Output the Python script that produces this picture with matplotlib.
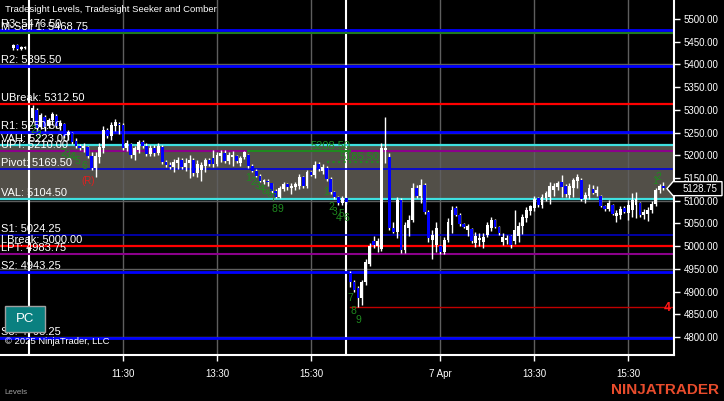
import matplotlib
matplotlib.use("Agg")
import matplotlib.pyplot as plt
import numpy as np
from matplotlib.patches import Polygon, Rectangle
from matplotlib.transforms import IdentityTransform, blended_transform_factory

plt.rcParams["font.family"] = ["Liberation Sans", "DejaVu Sans"]

# ---- 5 minute ES bars: tail of 3 Apr, 4 Apr RTH, 7 Apr RTH ----
prev_open = [5436, 5443, 5434, 5436]
prev_high = [5445, 5445, 5440.5, 5440.5]
prev_low = [5432, 5432, 5432, 5434]
prev_close = [5443, 5434, 5438.5, 5438.5]

day1_open = [
    5282, 5299.75, 5262.25, 5284.25, 5264.5, 5277.75, 5286.5, 5264.5, 5269, 5244.75,
    5249, 5231.5, 5220.5, 5216, 5218.25, 5198.5, 5172, 5196.25, 5216, 5255.75,
    5242.5, 5264.5, 5269, 5266.75, 5216, 5225, 5200.5, 5211.5, 5229.25, 5220.5,
    5202.75, 5216, 5205, 5218.25, 5185.25, 5178.5, 5174.25, 5183, 5189.5, 5174.25,
    5183, 5189.5, 5161, 5167.5, 5176.5, 5189.5, 5194, 5180.75, 5198.5, 5205,
    5187.5, 5196.25, 5198.5, 5183, 5196.25, 5200.5, 5176.5, 5165.5, 5154.5, 5141.25,
    5143.5, 5139, 5121.5, 5108.25, 5125.75, 5136.75, 5128, 5130.25, 5132.5, 5152.25,
    5132.5, 5163.25, 5156.5, 5180.75, 5165.5, 5172, 5147.75, 5119.25, 5108.25, 5095,
    5106]
day1_high = [
    5310.75, 5304, 5293, 5288.75, 5282, 5295.25, 5291, 5277.75, 5271, 5255.75,
    5251.25, 5238, 5225, 5227, 5220.5, 5207.25, 5207.25, 5227, 5264.5, 5260,
    5273.25, 5280, 5273.25, 5271, 5233.75, 5227, 5220.5, 5233.75, 5233.75, 5227,
    5222.75, 5222.75, 5227, 5222.75, 5189.5, 5185.25, 5191.75, 5196.25, 5194, 5194,
    5200.5, 5194, 5189.5, 5185.25, 5194, 5194, 5211.5, 5207.25, 5211.5, 5211.5,
    5207.25, 5209.5, 5200.5, 5198.5, 5209.5, 5202.75, 5180.75, 5169.75, 5158.75, 5147.75,
    5147.75, 5139, 5125.75, 5132.5, 5141.25, 5139, 5139, 5141.25, 5158.75, 5154.5,
    5167.5, 5165.5, 5187.5, 5185.25, 5180.75, 5176.5, 5152.25, 5121.5, 5110.5, 5110.5,
    5108.25]
day1_low = [
    5273.25, 5253.5, 5258, 5253.5, 5260, 5266.75, 5260, 5255.75, 5238, 5233.75,
    5225, 5216, 5211.5, 5207.25, 5194, 5167.5, 5152.25, 5183, 5205, 5238,
    5233.75, 5253.5, 5247, 5211.5, 5209.5, 5194, 5189.5, 5205, 5216, 5198.5,
    5198.5, 5198.5, 5200.5, 5180.75, 5174.25, 5169.75, 5163.25, 5169.75, 5169.75, 5165.5,
    5150, 5154.5, 5152.25, 5143.5, 5163.25, 5176.5, 5174.25, 5176.5, 5185.25, 5183,
    5180.75, 5176.5, 5183, 5176.5, 5191.75, 5172, 5163.25, 5152.25, 5141.25, 5137,
    5132.5, 5117, 5106, 5106, 5121.5, 5123.5, 5114.75, 5123.5, 5125.75, 5128,
    5128, 5154.5, 5150, 5165.5, 5158.75, 5143.5, 5114.75, 5103.75, 5090.5, 5090.5,
    5092.75]
day1_close = [
    5304, 5260, 5288.75, 5262.25, 5277.75, 5291, 5264.5, 5271, 5242.5, 5251.25,
    5229.25, 5220.5, 5216, 5220.5, 5198.5, 5172, 5198.5, 5218.25, 5255.75, 5242.5,
    5266.75, 5273.25, 5266.75, 5216, 5227, 5200.5, 5216, 5229.25, 5220.5, 5202.75,
    5216, 5205, 5220.5, 5185.25, 5178.5, 5174.25, 5185.25, 5189.5, 5174.25, 5183,
    5189.5, 5161, 5180.75, 5178.5, 5189.5, 5180.75, 5180.75, 5200.5, 5205, 5187.5,
    5200.5, 5200.5, 5187.5, 5194, 5207.25, 5176.5, 5165.5, 5154.5, 5143.5, 5145.5,
    5141.25, 5121.5, 5108.25, 5128, 5136.75, 5130.25, 5132.5, 5136.75, 5152.25, 5132.5,
    5163.25, 5156.5, 5178.5, 5169.75, 5174.25, 5147.75, 5119.25, 5108.25, 5095, 5106,
    5097.25]

day2_open = [
    4940.75, 4921, 4908, 4886, 4921, 4960.75, 5011.25, 5000.25, 4993.75, 5211.5,
    5196.25, 5040, 5031.25, 5101.5, 4991.5, 5040, 5057.5, 5128, 5110.5, 5134.5,
    5075.25, 5013.5, 5002.5, 5000.25, 4987, 5013.5, 5046.5, 5084, 5068.5, 5048.75,
    5035.5, 5037.75, 5007, 5013.5, 5009, 5024.5, 5040, 5057.5, 5042.25, 5009,
    5013.5, 5022.5, 5011.25, 5022.5, 5044.5, 5062, 5077.5, 5084, 5106, 5090.5,
    5106, 5108.25, 5123.5, 5130.25, 5141.25, 5132.5, 5112.5, 5128, 5143.5, 5145.5,
    5103.75, 5110.5, 5125.75, 5117, 5110.5, 5088.5, 5081.75, 5090.5, 5066.5, 5068.5,
    5084, 5073, 5079.5, 5090.5, 5095, 5068.5, 5070.75, 5079.5, 5092.75, 5123.5,
    5132.5]
day2_high = [
    4945.25, 4925.5, 4912.25, 4925.5, 4971.75, 5007, 5022.5, 5018, 5227, 5284.25,
    5205, 5053.25, 5108.25, 5106, 5053.25, 5068.5, 5139, 5134.5, 5147.75, 5139,
    5079.5, 5035.5, 5053.25, 5002.5, 5020.25, 5062, 5088.5, 5088.5, 5073, 5051,
    5048.75, 5040, 5031.25, 5029, 5029, 5053.25, 5064.25, 5059.75, 5044.5, 5029,
    5024.5, 5024.5, 5079.5, 5053.25, 5070.75, 5086.25, 5090.5, 5110.5, 5108.25, 5114.75,
    5121.5, 5141.25, 5139, 5143.5, 5156.5, 5136.75, 5139, 5150, 5158.75, 5150,
    5119.25, 5136.75, 5134.5, 5132.5, 5112.5, 5090.5, 5101.5, 5092.75, 5079.5, 5088.5,
    5088.5, 5101.5, 5117, 5119.25, 5097.25, 5081.75, 5086.25, 5099.5, 5128, 5136.75,
    5141.25]
day2_low = [
    4910, 4899, 4866, 4870.5, 4914.5, 4956.25, 4996, 4987, 4989.25, 5183,
    5035.5, 5029, 5018, 4985, 4985, 5022.5, 5053.25, 5106, 5095, 5070.75,
    5009, 4971.75, 4987, 4982.75, 4982.75, 5009, 5029, 5066.5, 5044.5, 5040,
    5022.5, 5007, 4998, 5000.25, 4996, 5020.25, 5033.5, 5040, 5024.5, 5002.5,
    5004.75, 4996, 5004.75, 5009, 5026.75, 5053.25, 5068.5, 5077.5, 5086.25, 5084,
    5099.5, 5092.75, 5110.5, 5123.5, 5108.25, 5108.25, 5106, 5108.25, 5128, 5099.5,
    5095, 5103.75, 5114.75, 5110.5, 5086.25, 5077.5, 5077.5, 5068.5, 5053.25, 5059.75,
    5073, 5057.5, 5064.25, 5062, 5064.25, 5059.75, 5055.5, 5073, 5088.5, 5117,
    5123.5]
day2_close = [
    4921, 4903.5, 4886, 4921, 4965, 5000.25, 5002.5, 5011.25, 5216, 5216,
    5040, 5031.25, 5101.5, 4991.5, 5046.5, 5057.5, 5128, 5110.5, 5134.5, 5075.25,
    5018, 5024.5, 5040, 4987, 5013.5, 5053.25, 5079.5, 5068.5, 5048.75, 5042.25,
    5044.5, 5011.25, 5022.5, 5018, 5020.25, 5046.5, 5057.5, 5042.25, 5029, 5020.25,
    5018, 5002.5, 5035.5, 5044.5, 5064.25, 5079.5, 5088.5, 5103.75, 5090.5, 5108.25,
    5117, 5132.5, 5132.5, 5139, 5130.25, 5114.75, 5132.5, 5145.5, 5152.25, 5103.75,
    5112.5, 5128, 5117, 5123.5, 5088.5, 5081.75, 5095, 5070.75, 5073, 5081.75,
    5075.25, 5090.5, 5101.5, 5103.75, 5068.5, 5075.25, 5079.5, 5092.75, 5123.5, 5132.5,
    5128.75]

# ---- Tradesight levels ----
level_names = ["R3", "M-Sell 1", "R2", "UBreak", "R1", "VAH", "UPT", "Pivot",
               "VAL", "S1", "LBreak", "LPT", "S2", "S3"]
level_values = [5476.50, 5468.75, 5395.50, 5312.50, 5250.50, 5223.00, 5210.00,
                5169.50, 5104.50, 5024.25, 5000.00, 4983.75, 4943.25, 4798.25]
level_style = {
    "R3": ("#0000ff", 2), "M-Sell 1": ("#1f7a1f", 1.5), "R2": ("#0000ff", 2),
    "UBreak": ("#ff0000", 1.6), "R1": ("#0000ff", 2), "VAH": ("#3ee0e0", 1.6),
    "UPT": ("#8b008b", 1.5), "Pivot": ("#0000e0", 1.2), "VAL": ("#3ee0e0", 1.6),
    "S1": ("#0000c0", 1.2), "LBreak": ("#ff0000", 1.6), "LPT": ("#8b008b", 1.5),
    "S2": ("#0000ff", 2), "S3": ("#0000ff", 2),
}
grid_prices = [5400, 5250, 5100, 4950, 4800]
low_of_day = 4866.0

# Seeker / Comber marks
seek_lines = [(55, 81, 5208.50), (75, 88.5, 5185.50)]
count_text = ["2", "3", "2", "3", "4", "5", "6",
              "1", "2", "3", "4", "5", "6", "7", "8", "9",
              "1", "2", "3", "4", "5", "6", "7", "8", "9",
              "1", "2"]
count_x = [0, 1.5, 7.8, 8.8, 10.2, 11.5, 13.2,
           55, 56.3, 57.3, 58.3, 59.2, 60.3, 61.3, 61.8, 63.2,
           75, 76.2, 77, 78, 78.8, 80, 81, 81.8, 83,
           158.8, 159.8]
count_y = [5255.5, 5244.7, 5205, 5200.6, 5196, 5187.4, 5176.4,
           5150, 5141.2, 5132.5, 5125.8, 5121.4, 5114.8, 5106, 5081.8, 5081.8,
           5119.2, 5086.2, 5075.2, 5062, 5070.8, 5062, 4886, 4857.5, 4837.5,
           5143.4, 5152.2]

tick_times = ["11:30", "13:30", "15:30", "11:30", "13:30", "15:30"]
tick_day = [0, 0, 0, 1, 1, 1]
tick_text = ["11:30", "13:30", "15:30", "7 Apr", "13:30", "15:30"]
price_ticks = np.arange(4800, 5501, 50)

# ---- layout ----
W, H = 724, 401
fig = plt.figure(figsize=(W / 100, H / 100), dpi=100, facecolor="black")
ax = fig.add_axes([0, 1 - 355 / H, 674 / W, 355 / H])
ax.set_facecolor("black")

n1, n2 = len(day1_open), len(day2_open)
x_prev = np.arange(-len(prev_open) - 1, -1)
x_d1 = np.arange(n1)
x_d2 = np.arange(n1, n1 + n2)
bars_per_day = n1

def bar_of(t, day):
    hh, mm = map(int, t.split(":"))
    return day * bars_per_day + (hh * 60 + mm - (9 * 60 + 35)) / 5

ax.set_xlim(-8.4, 163.7)
ax.set_ylim(4760.4, 5541.8)

# value area
ax.axhspan(level_values[level_names.index("VAL")],
           level_values[level_names.index("VAH")], color="#524f48", zorder=0, lw=0)

grid_c = "#5e5e5e"
for p in grid_prices:
    ax.axhline(p, color=grid_c, lw=1, zorder=1)
tick_pos = [bar_of(t, d) for t, d in zip(tick_times, tick_day)]
for xp in tick_pos:
    ax.axvline(xp, color=grid_c, lw=1, zorder=1)

# session breaks
for xb in (-1, n1 - 1):
    ax.axvline(xb, color="white", lw=1.5, zorder=1.5)

lbl_tr = blended_transform_factory(ax.transAxes, ax.transData)
for name, val in zip(level_names, level_values):
    c, lw = level_style[name]
    ax.axhline(val, color=c, lw=lw, zorder=2)
for name, val in zip(level_names, level_values):
    ax.annotate(f"{name}: {val:.2f}", xy=(0, val), xycoords=lbl_tr,
                xytext=(1, 1), textcoords="offset pixels", ha="left", va="bottom",
                color="white", fontsize=8, zorder=6)

ax.plot([n1, 163.7], [low_of_day, low_of_day], color="#c00000", lw=1, zorder=2)


def candles(x, o, h, l, c):
    o, h, l, c = map(np.asarray, (o, h, l, c))
    up = c >= o
    ax.vlines(x, l, h, color="white", lw=1, zorder=3)
    body = np.maximum(np.abs(c - o), 0.8)
    ax.bar(x, body, bottom=np.minimum(o, c), width=0.72,
           color=np.where(up, "white", "#0000ff"), lw=0, zorder=4)


candles(x_prev, prev_open, prev_high, prev_low, prev_close)
candles(x_d1, day1_open, day1_high, day1_low, day1_close)
candles(x_d2, day2_open, day2_high, day2_low, day2_close)

green = "#1f8a1f"
for x0, x1, p in seek_lines:
    ls = "-" if p > 5200 else ":"
    ax.plot([x0, x1], [p, p], color=green, lw=1.5, ls=ls, zorder=5)
    ax.text(x1, p, f"{p:.2f}", color=green, fontsize=8, ha="right", va="bottom", zorder=5)
for t, xx, yy in zip(count_text, count_x, count_y):
    ax.text(xx, yy, t, color=green, fontsize=7.5, ha="center", va="center", zorder=5)
ax.text(14.1, 5143.4, "(R)", color="#e02020", fontsize=7, ha="center", va="center", zorder=5)
ax.text(161.9, 4863.8, "4", color="#ff1a1a", fontsize=9, fontweight="bold",
        ha="center", va="center", zorder=5)

# axes styling
for s in ("top", "left"):
    ax.spines[s].set_visible(False)
for s in ("right", "bottom"):
    ax.spines[s].set_color("white")
    ax.spines[s].set_linewidth(1.5)
ax.yaxis.tick_right()
ax.set_yticks(price_ticks)
ax.set_yticklabels([f"{v:.2f}" for v in price_ticks])
ax.set_xticks(tick_pos)
ax.set_xticklabels(tick_text)
ax.tick_params(axis="y", colors="white", length=4, width=1, pad=3, labelsize=7)
ax.tick_params(axis="x", colors="white", length=4, width=1, pad=6, labelsize=7)

# current price marker
last = day2_close[-1]
_, py = ax.transData.transform((0, last))
px = ax.transAxes.transform((1, 0))[0]
py -= 1
marker = Polygon([(px - 7, py), (px - 1, py + 7), (W - 2, py + 7), (W - 2, py - 7),
                  (px - 1, py - 7)], closed=True, transform=IdentityTransform(),
                 fc="black", ec="white", lw=1, zorder=10)
fig.add_artist(marker)
fig.text((px + 9) / W, py / H, f"{last:.2f}", color="white", fontsize=7,
         ha="left", va="center", zorder=12)

# PC button
fig.add_artist(Rectangle((5, H - 332), 40, 26, transform=IdentityTransform(),
                         fc="#0a8080", ec="#a0a0a0", lw=1, zorder=10))
fig.text(25 / W, 1 - 319 / H, "PC", color="white", fontsize=9.5, ha="center",
         va="center", zorder=11)

fig.text(5 / W, 1 - 10 / H, "Tradesight Levels, Tradesight Seeker and Comber",
         color="white", fontsize=6.8, ha="left", va="center")
fig.text(5 / W, 1 - 342 / H, "\u00a9 2025 NinjaTrader, LLC", color="white",
         fontsize=6.8, ha="left", va="center")
fig.text(4 / W, 1 - 392 / H, "Levels", color="#a0a0a0", fontsize=5.8,
         ha="left", va="center")
fig.text(611 / W, 1 - 390 / H, "NINJATRADER", color="#e84c2c", fontsize=11,
         fontweight="bold", ha="left", va="center")

fig.savefig("out.png", dpi=100, facecolor="black")
